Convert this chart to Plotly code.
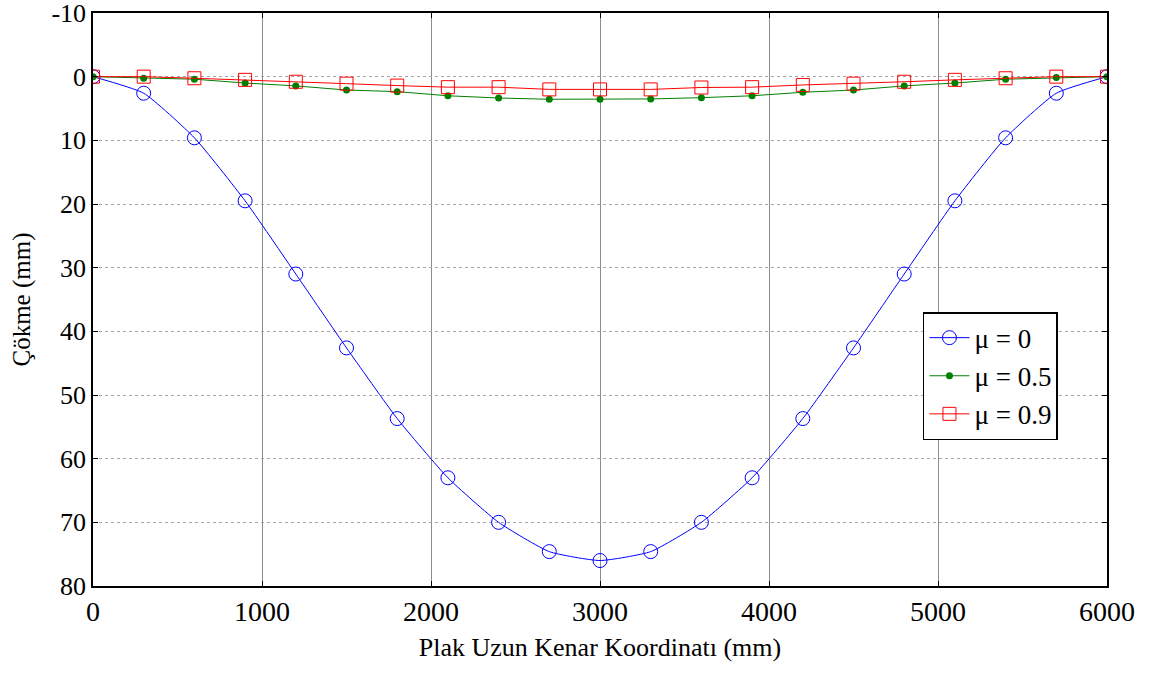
import plotly.graph_objects as go

x_mm = [0, 300, 600, 900, 1200, 1500, 1800, 2100, 2400, 2700, 3000,
        3300, 3600, 3900, 4200, 4500, 4800, 5100, 5400, 5700, 6000]
mu0 = [0, 2.6, 9.6, 19.5, 31.0, 42.6, 53.7, 63.0, 70.0, 74.6, 76.0,
       74.6, 70.0, 63.0, 53.7, 42.6, 31.0, 19.5, 9.6, 2.6, 0]
mu05 = [0, 0.25, 0.4, 1.0, 1.45, 2.1, 2.35, 3.0, 3.35, 3.55, 3.55,
        3.5, 3.3, 3.0, 2.45, 2.1, 1.45, 1.0, 0.4, 0.15, 0]
mu09 = [0, 0.0, 0.25, 0.5, 0.8, 1.1, 1.4, 1.65, 1.65, 2.0, 2.0,
        2.0, 1.7, 1.65, 1.3, 1.1, 0.8, 0.5, 0.25, 0.0, 0]
labels = ["\u03bc = 0", "\u03bc = 0.5", "\u03bc = 0.9"]
xticks = [0, 1000, 2000, 3000, 4000, 5000, 6000]
yticks = [-10, 0, 10, 20, 30, 40, 50, 60, 70, 80]

FONT = "Times"

fig = go.Figure()
fig.add_trace(go.Scatter(x=x_mm, y=mu0, name=labels[0], mode="lines+markers",
                         line=dict(color="#0000ff", width=1, shape="spline", smoothing=0.5),
                         marker=dict(symbol="circle-open", size=14, color="#0000ff",
                                     line=dict(width=1, color="#0000ff"))))
fig.add_trace(go.Scatter(x=x_mm, y=mu05, name=labels[1], mode="lines+markers",
                         line=dict(color="#008000", width=1),
                         marker=dict(symbol="circle", size=7, color="#008000")))
fig.add_trace(go.Scatter(x=x_mm, y=mu09, name=labels[2], mode="lines+markers",
                         line=dict(color="#ff0000", width=1),
                         marker=dict(symbol="square-open", size=13, color="#ff0000",
                                     line=dict(width=1, color="#ff0000"))))

fig.update_layout(
    width=1153, height=673,
    margin=dict(l=93, r=46, t=13, b=87),
    paper_bgcolor="white", plot_bgcolor="white",
    font=dict(family=FONT, size=26, color="black"),
    legend=dict(x=0.8185, y=0.478, xanchor="left", yanchor="top",
                bordercolor="black", borderwidth=1.5, bgcolor="white",
                font=dict(family=FONT, size=27, color="black"), tracegroupgap=0,
                itemwidth=40),
    showlegend=True,
)
fig.update_xaxes(
    range=[0, 6000], tickvals=xticks, ticktext=[str(v) for v in xticks],
    showline=True, linecolor="black", linewidth=1.5, mirror="ticks",
    ticks="inside", ticklen=5, tickcolor="black",
    showgrid=True, gridcolor="#8c8c8c", gridwidth=1,
    zeroline=False, automargin=False, ticklabeloverflow="allow",
    ticklabelstandoff=0,
    title=dict(text="Plak Uzun Kenar Koordinatı (mm)", font=dict(family=FONT, size=26, color="black"), standoff=11),
    tickfont=dict(family=FONT, size=28, color="black"),
)
fig.update_yaxes(
    range=[80, -10], tickvals=yticks, ticktext=[str(v) for v in yticks],
    showline=True, linecolor="black", linewidth=1.5, mirror="ticks",
    ticks="inside", ticklen=5, tickcolor="black",
    showgrid=True, gridcolor="#a6a6a6", gridwidth=1, griddash="dot",
    zeroline=False, automargin=False, ticklabeloverflow="allow",
    title=dict(text="Çökme (mm)", font=dict(family=FONT, size=25, color="black"), standoff=14),
    tickfont=dict(family=FONT, size=26, color="black"),
)

fig.write_html("out.html", config={"displayModeBar": False},
               post_script="document.body.style.margin='0';document.body.style.overflow='hidden';")
